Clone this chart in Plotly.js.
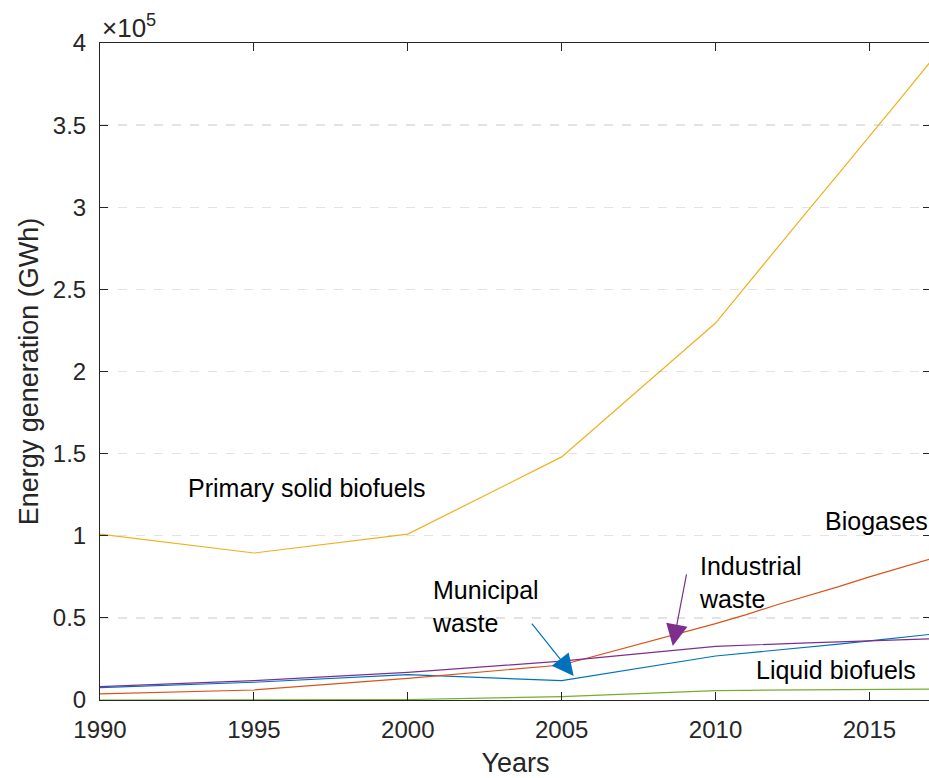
<!DOCTYPE html>
<html>
<head>
<meta charset="utf-8">
<script src="https://cdn.plot.ly/plotly-3.0.1.min.js"></script>
<style>
html,body{margin:0;padding:0;overflow:hidden;background:#fff;}
#chart{width:932px;height:778px;}
</style>
</head>
<body>
<div id="chart"></div>
<script>
const years = [1990, 1995, 2000, 2005, 2010, 2011, 2012, 2013, 2014, 2015, 2016, 2017];
const municipalWaste = [7500, 10800, 15400, 11800, 26800, 28500, 30500, 32200, 34000, 36000, 38000, 40000];
const biogases = [3700, 6100, 13200, 21300, 46500, 52000, 58000, 63500, 69000, 75000, 80500, 86000];
const primarySolid = [101000, 89500, 101000, 148000, 229500, 252500, 275500, 298000, 320500, 343000, 366000, 389000];
const industrialWaste = [8100, 11800, 16800, 23700, 32700, 33500, 34200, 34800, 35400, 36000, 36600, 37200];
const liquidBiofuels = [0, 0, 300, 2000, 5700, 5900, 6000, 6100, 6200, 6400, 6500, 6600];

const xTickVals = [1990, 1995, 2000, 2005, 2010, 2015];
const yTickVals = [0, 50000, 100000, 150000, 200000, 250000, 300000, 350000, 400000];
const yTickText = ['0', '0.5', '1', '1.5', '2', '2.5', '3', '3.5', '4'];

const FONT = 'Liberation Sans, Arial, Helvetica, sans-serif';
const AX = '#262626';

function line(y, color, name) {
  return {x: years, y: y, type: 'scatter', mode: 'lines', name: name,
          line: {color: color, width: 1.2}, hoverinfo: 'x+y'};
}

const traces = [
  line(municipalWaste, '#0072BD', 'Municipal waste'),
  line(biogases, '#D95319', 'Biogases'),
  line(primarySolid, '#EDB120', 'Primary solid biofuels'),
  line(industrialWaste, '#7E2F8E', 'Industrial waste'),
  line(liquidBiofuels, '#77AC30', 'Liquid biofuels')
];

const labelFont = {family: FONT, size: 25, color: '#000'};

const layout = {
  width: 932, height: 778,
  margin: {l: 100, r: 1, t: 43, b: 78},
  paper_bgcolor: '#fff', plot_bgcolor: '#fff',
  showlegend: false,
  font: {family: FONT, color: AX},
  xaxis: {
    range: [1990, 2017], tickvals: xTickVals,
    ticks: 'inside', ticklen: 8, tickcolor: AX, tickwidth: 1,
    showline: true, linecolor: AX, linewidth: 1, mirror: 'ticks',
    showgrid: false, zeroline: false, ticklabelstandoff: 8,
    tickfont: {family: FONT, size: 24, color: AX},
    title: {text: 'Years', font: {family: FONT, size: 27, color: AX}, standoff: 12}
  },
  yaxis: {
    range: [0, 400000], tickvals: yTickVals, ticktext: yTickText,
    ticks: 'inside', ticklen: 8, tickcolor: AX, tickwidth: 1,
    showline: true, linecolor: AX, linewidth: 1, mirror: 'ticks',
    showgrid: true, gridcolor: '#e3e3e3', griddash: 'dash', gridwidth: 1.3,
    zeroline: false, ticklabelstandoff: 8,
    tickfont: {family: FONT, size: 24, color: AX},
    title: {text: 'Energy generation (GWh)', font: {family: FONT, size: 27, color: AX}, standoff: 6}
  },
  annotations: [
    {xref: 'paper', yref: 'paper', x: 0, y: 1, xanchor: 'left', yanchor: 'bottom', yshift: -2,
     text: '×10<sup>5</sup>', showarrow: false, font: {family: FONT, size: 26, color: AX}},
    {x: 1996.72, y: 129100, text: 'Primary solid biofuels', showarrow: false, font: labelFont,
     xanchor: 'center', yanchor: 'middle'},
    {x: 2015.23, y: 109000, text: 'Biogases', showarrow: false, font: labelFont,
     xanchor: 'center', yanchor: 'middle'},
    {x: 2009.4, y: 71500, text: 'Industrial<br>waste', showarrow: false, font: labelFont,
     xanchor: 'left', yanchor: 'middle', align: 'left'},
    {x: 2000.72, y: 56900, text: 'Municipal<br>waste', showarrow: false, font: labelFont,
     xanchor: 'left', yanchor: 'middle', align: 'left'},
    {x: 2013.9, y: 18300, text: 'Liquid biofuels', showarrow: false, font: labelFont,
     xanchor: 'center', yanchor: 'middle'},
    {x: 2005.39, y: 14600, text: '', showarrow: true, ax: -43, ay: -54,
     arrowhead: 2, arrowsize: 3.6, arrowwidth: 1.2, arrowcolor: '#0072BD', standoff: 0},
    {x: 2008.61, y: 32900, text: '', showarrow: true, ax: 14, ay: -73,
     arrowhead: 2, arrowsize: 3.6, arrowwidth: 1.2, arrowcolor: '#7E2F8E', standoff: 0}
  ]
};

Plotly.newPlot('chart', traces, layout, {displayModeBar: false, staticPlot: true});
</script>
</body>
</html>
